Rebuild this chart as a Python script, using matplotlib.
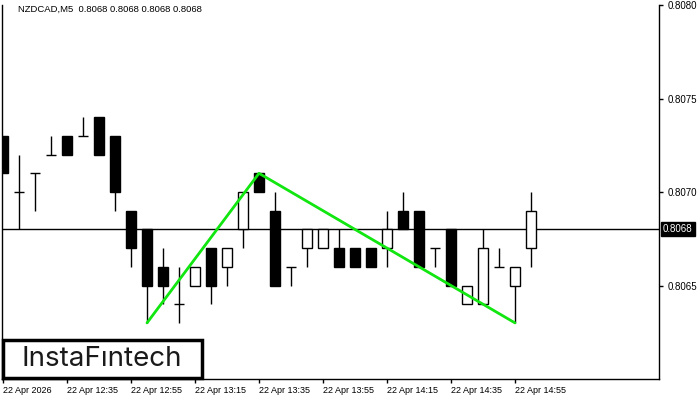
import matplotlib
matplotlib.use("Agg")
import matplotlib.pyplot as plt
from matplotlib.patches import Rectangle

# ---- data ----
tick_labels = ["22 Apr 2026", "22 Apr 12:35", "22 Apr 12:55", "22 Apr 13:15", "22 Apr 13:35",
               "22 Apr 13:55", "22 Apr 14:15", "22 Apr 14:35", "22 Apr 14:55"]
opens  = [0.8073, 0.8070, 0.8071, 0.8072, 0.8073, 0.8073, 0.8074, 0.8073, 0.8069, 0.8068,
          0.8066, 0.8064, 0.8065, 0.8067, 0.8066, 0.8068, 0.8071, 0.8069, 0.8066, 0.8067,
          0.8067, 0.8067, 0.8067, 0.8067, 0.8067, 0.8069, 0.8069, 0.8067, 0.8068, 0.8064,
          0.8064, 0.8066, 0.8065, 0.8067]
highs  = [0.8073, 0.8072, 0.8071, 0.8073, 0.8073, 0.8074, 0.8074, 0.8073, 0.8069, 0.8068,
          0.8067, 0.8066, 0.8066, 0.8067, 0.8067, 0.8070, 0.8071, 0.8070, 0.8066, 0.8068,
          0.8068, 0.8068, 0.8067, 0.8067, 0.8069, 0.8070, 0.8069, 0.8067, 0.8068, 0.8065,
          0.8068, 0.8067, 0.8066, 0.8070]
lows   = [0.8071, 0.8068, 0.8069, 0.8072, 0.8072, 0.8073, 0.8072, 0.8069, 0.8066, 0.8063,
          0.8064, 0.8063, 0.8065, 0.8064, 0.8065, 0.8067, 0.8070, 0.8065, 0.8065, 0.8066,
          0.8067, 0.8066, 0.8066, 0.8066, 0.8066, 0.8068, 0.8066, 0.8066, 0.8065, 0.8064,
          0.8064, 0.8066, 0.8063, 0.8066]
closes = [0.8071, 0.8070, 0.8071, 0.8072, 0.8072, 0.8073, 0.8072, 0.8070, 0.8067, 0.8065,
          0.8065, 0.8064, 0.8066, 0.8065, 0.8067, 0.8070, 0.8070, 0.8065, 0.8066, 0.8068,
          0.8068, 0.8066, 0.8066, 0.8066, 0.8068, 0.8068, 0.8066, 0.8067, 0.8065, 0.8065,
          0.8067, 0.8066, 0.8066, 0.8069]
pattern_idx = [9, 16, 32]
pattern_val = [0.8063, 0.8071, 0.8063]
current_price = 0.8068
y_ticks = [0.8065, 0.8070, 0.8075, 0.8080]
header = "NZDCAD,M5  0.8068 0.8068 0.8068 0.8068"

plt.rcParams["font.family"] = ["Liberation Sans", "DejaVu Sans"]

W, H = 700, 400
fig = plt.figure(figsize=(7, 4), dpi=100)
ax = fig.add_axes([2 / W, (H - 379) / H, (659 - 2) / W, (379 - 5) / H])
ax.set_xlim(-0.0625, 41)
ax.set_ylim(0.8060, 0.8080)

bw = 0.66
for i, (o, h, l, c) in enumerate(zip(opens, highs, lows, closes)):
    ax.vlines(i, l, h, color="black", lw=1, zorder=2)
    if o == c:
        ax.hlines(o, i - bw / 2, i + bw / 2, color="black", lw=1, zorder=3)
    else:
        bull = c > o
        ax.add_patch(Rectangle((i - bw / 2, min(o, c)), bw, abs(c - o),
                               facecolor="white" if bull else "black",
                               edgecolor="black", lw=1, zorder=3))

ax.plot(pattern_idx, pattern_val, color="#11e611", lw=2, zorder=4, solid_capstyle="round")
ax.axhline(current_price, color="black", lw=1, zorder=1)

# axes styling
ax.spines["top"].set_visible(False)
for s in ["left", "right", "bottom"]:
    ax.spines[s].set_linewidth(1)
ax.yaxis.tick_right()
ax.set_yticks(y_ticks)
ax.set_yticklabels([f"{v:.4f}" for v in y_ticks], fontsize=7)
ax.tick_params(axis="y", length=3, width=1, pad=3)
ax.set_xticks(range(0, 33, 4))
ax.set_xticklabels(tick_labels, fontsize=6.5, ha="left")
ax.tick_params(axis="x", length=3, width=1, pad=2)

# current price label
ax.text(1.006, current_price, f"{current_price:.4f}", transform=ax.get_yaxis_transform(),
        ha="left", va="center", fontsize=7, color="white", zorder=6, clip_on=False,
        bbox=dict(boxstyle="square,pad=0.2", facecolor="black", edgecolor="black"))

# header
fig.text(18 / W, 1 - 9 / H, header, fontsize=6.8, ha="left", va="center", color="black")

# logo box
fig.patches.append(Rectangle((3 / W, (H - 378) / H), 199 / W, 38 / H, transform=fig.transFigure,
                             facecolor="white", edgecolor="black", lw=2.5, zorder=10))
fig.text(102 / W, 1 - 359 / H, "InstaF\u0131ntech", fontsize=20, ha="center", va="center",
         color="#1a1a1a", family="Inter", zorder=11)

fig.savefig("out.png", dpi=100)
